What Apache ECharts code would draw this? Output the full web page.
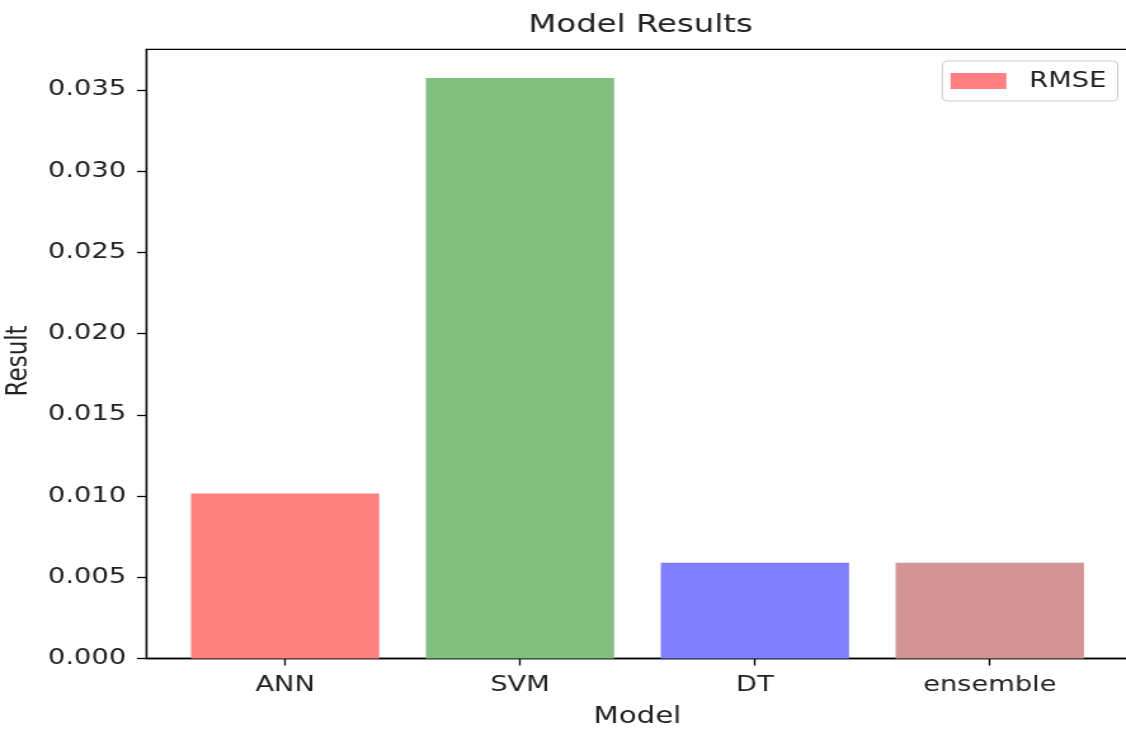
<!DOCTYPE html>
<html>
<head>
<meta charset="utf-8">
<script src="https://cdn.jsdelivr.net/npm/echarts@6/dist/echarts.min.js"></script>
<style>
  html, body { margin: 0; padding: 0; background: #fff; overflow: hidden; }
  #chart { width: 887px; height: 730px; transform: scaleX(1.2694); transform-origin: 0 0; }
</style>
</head>
<body>
<div id="chart"></div>
<script>
// Model names and their RMSE values
const models = ['ANN', 'SVM', 'DT', 'ensemble'];
const rmse = [0.01015, 0.03573, 0.0059, 0.0059];
const barColors = ['#ff8080', '#80bf80', '#8080ff', '#d29494'];
const yTicks = [0, 0.005, 0.010, 0.015, 0.020, 0.025, 0.030, 0.035];
const xTicks = [0, 1, 2, 3];

const font = 'DejaVu Sans';
const ink = '#222';

const chart = echarts.init(document.getElementById('chart'), null, { renderer: 'canvas' });

chart.setOption({
  backgroundColor: '#fff',
  animation: false,
  title: {
    text: 'Model Results',
    left: 504.7,
    top: 12,
    padding: 0,
    textAlign: 'center',
    textStyle: { fontFamily: font, fontSize: 25.5, fontWeight: 'normal', color: ink }
  },
  legend: {
    data: [{ name: 'RMSE', icon: 'rect' }],
    left: 742.3,
    top: 61,
    orient: 'vertical',
    padding: [8, 9, 8, 6.5],
    itemWidth: 44,
    itemHeight: 16,
    borderColor: '#cccccc',
    borderWidth: 1,
    borderRadius: 4,
    backgroundColor: '#fff',
    textStyle: { fontFamily: font, fontSize: 21.5, color: ink, lineHeight: 24, padding: [0, 0, 0, 13] }
  },
  grid: {
    left: 115.4,
    right: -1.9,
    top: 49.3,
    bottom: 71.5,
    show: true,
    borderColor: '#000',
    borderWidth: 1.3,
    containLabel: false,
    outerBoundsMode: 'none'
  },
  xAxis: {
    type: 'value',
    min: -0.59,
    max: 3.59,
    name: 'Model',
    nameLocation: 'middle',
    nameGap: 47,
    nameTextStyle: { fontFamily: font, fontSize: 23, color: ink },
    axisLine: { show: true, onZero: false, lineStyle: { color: '#000', width: 1.3 } },
    axisTick: { show: true, length: 7, customValues: xTicks, lineStyle: { color: '#000', width: 1.3 } },
    axisLabel: {
      customValues: xTicks,
      margin: 16,
      fontFamily: font, fontSize: 21.5, color: ink,
      formatter: v => models[v]
    },
    splitLine: { show: false }
  },
  yAxis: {
    type: 'value',
    min: 0,
    max: 0.0375,
    name: 'Result',
    nameLocation: 'middle',
    nameGap: 81,
    nameRotate: 90,
    nameTextStyle: { fontFamily: font, fontSize: 23, color: ink, padding: [0, 14, 0, 0] },
    axisLine: { show: true, onZero: false, lineStyle: { color: '#000', width: 1.3 } },
    axisTick: { show: true, length: 7.5, customValues: yTicks, lineStyle: { color: '#000', width: 1.3 } },
    axisLabel: {
      customValues: yTicks,
      margin: 16,
      padding: [6, 0, 0, 0],
      fontFamily: font, fontSize: 21.5, color: ink,
      formatter: v => v.toFixed(3)
    },
    splitLine: { show: false }
  },
  series: [{
    name: 'RMSE',
    type: 'bar',
    barWidth: 148.3,
    itemStyle: { color: barColors[0] },
    data: models.map((m, i) => ({ value: [i, rmse[i]], itemStyle: { color: barColors[i] } }))
  }]
});
</script>
</body>
</html>
